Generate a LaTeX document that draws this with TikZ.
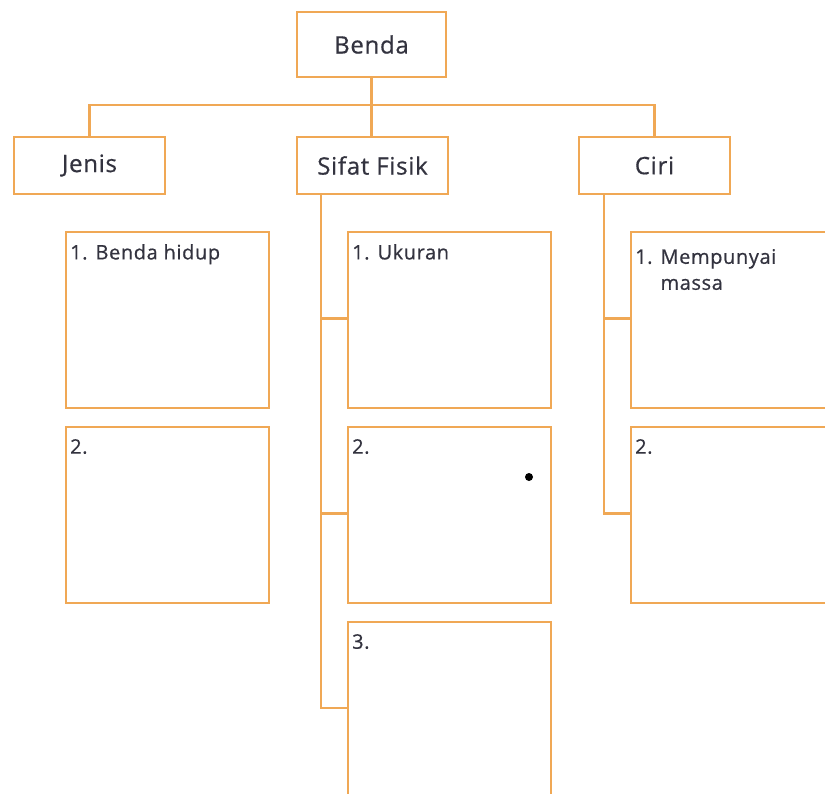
\documentclass[tikz,border=0pt]{standalone}
\usepackage{fontspec}
\setmainfont{Open Sans}[FakeBold=0.6,LetterSpace=3]
\definecolor{boxline}{HTML}{F0A855}
\definecolor{txt}{HTML}{33333F}
\begin{document}
\begin{tikzpicture}[x=1pt,y=-1pt,
  conn/.style={draw=boxline,line width=2.4pt},
  headbox/.style={draw=boxline,line width=2.4pt,rectangle,minimum width=151pt,minimum height=57pt,
     font=\fontsize{24}{28}\selectfont,text=txt,inner sep=0pt},
  itembox/.style={draw=boxline,line width=2.4pt,rectangle,anchor=north west,minimum width=203pt,
     minimum height=176pt,inner sep=0pt},
  itemtext/.style={anchor=north west,font=\fontsize{20}{28}\selectfont,text=txt,inner sep=0pt,align=left}]
\useasboundingbox (0,0) rectangle (825,793);
\clip (0,0) rectangle (825,793);
\fill[white] (0,0) rectangle (825,793);
% top
\node[headbox,minimum width=149pt,minimum height=65pt] (benda) at (371.5,44.5) {Benda};
\node[headbox] (jenis) at (89.5,165.5) {Jenis};
\node[headbox] (sifat) at (372.5,165.5) {Sifat Fisik};
\node[headbox] (ciri) at (654.5,165.5) {Ciri};
\coordinate (hub) at (371.5,105);
\draw[conn] (benda.south) -- (benda.south |- sifat.north);
\draw[conn] (jenis.north) |- (hub) -| (ciri.north);
% Jenis items
\node[itembox] (j1) at (65,231) {};
\node[itembox] (j2) at (65,426) {};
\node[itemtext] at ([shift={(5,13)}]j1.north west) {1.\hspace{0.4em}Benda hidup};
\node[itemtext] at ([shift={(5,13)}]j2.north west) {2.};
% Sifat items
\node[itembox] (s1) at (347,231) {};
\node[itembox] (s2) at (347,426) {};
\node[itembox,minimum height=200pt] (s3) at (347,621) {};
\node[itemtext] at ([shift={(5,13)}]s1.north west) {1.\hspace{0.4em}Ukuran};
\node[itemtext] at ([shift={(5,13)}]s2.north west) {2.};
\node[itemtext] at ([shift={(5,13)}]s3.north west) {3.};
\coordinate (sb1) at (321,318.5);
\coordinate (sb2) at (321,513.5);
\coordinate (sb3) at (321,708);
\draw[conn] (sifat.south -| sb1) -- (sb3) -- (sb3 -| s3.west);
\draw[conn] (sb1) -- (sb1 -| s1.west);
\draw[conn] (sb2) -- (sb2 -| s2.west);
% Ciri items
\node[itembox,minimum width=210pt] (c1) at (630,231) {};
\node[itembox,minimum width=210pt] (c2) at (630,426) {};
\node[itemtext] at ([shift={(5,13)}]c1.north west) {1.\hspace{0.4em}\begin{tabular}[t]{@{}l@{}}Mempunyai\\[-2pt]massa\end{tabular}};
\node[itemtext] at ([shift={(5,13)}]c2.north west) {2.};
\coordinate (cb1) at (604,318.5);
\coordinate (cb2) at (604,513.5);
\draw[conn] (ciri.south -| cb1) -- (cb2) -- (cb2 -| c2.west);
\draw[conn] (cb1) -- (cb1 -| c1.west);
% dot
\fill[black] (529,477) circle (4pt);
\end{tikzpicture}
\end{document}
